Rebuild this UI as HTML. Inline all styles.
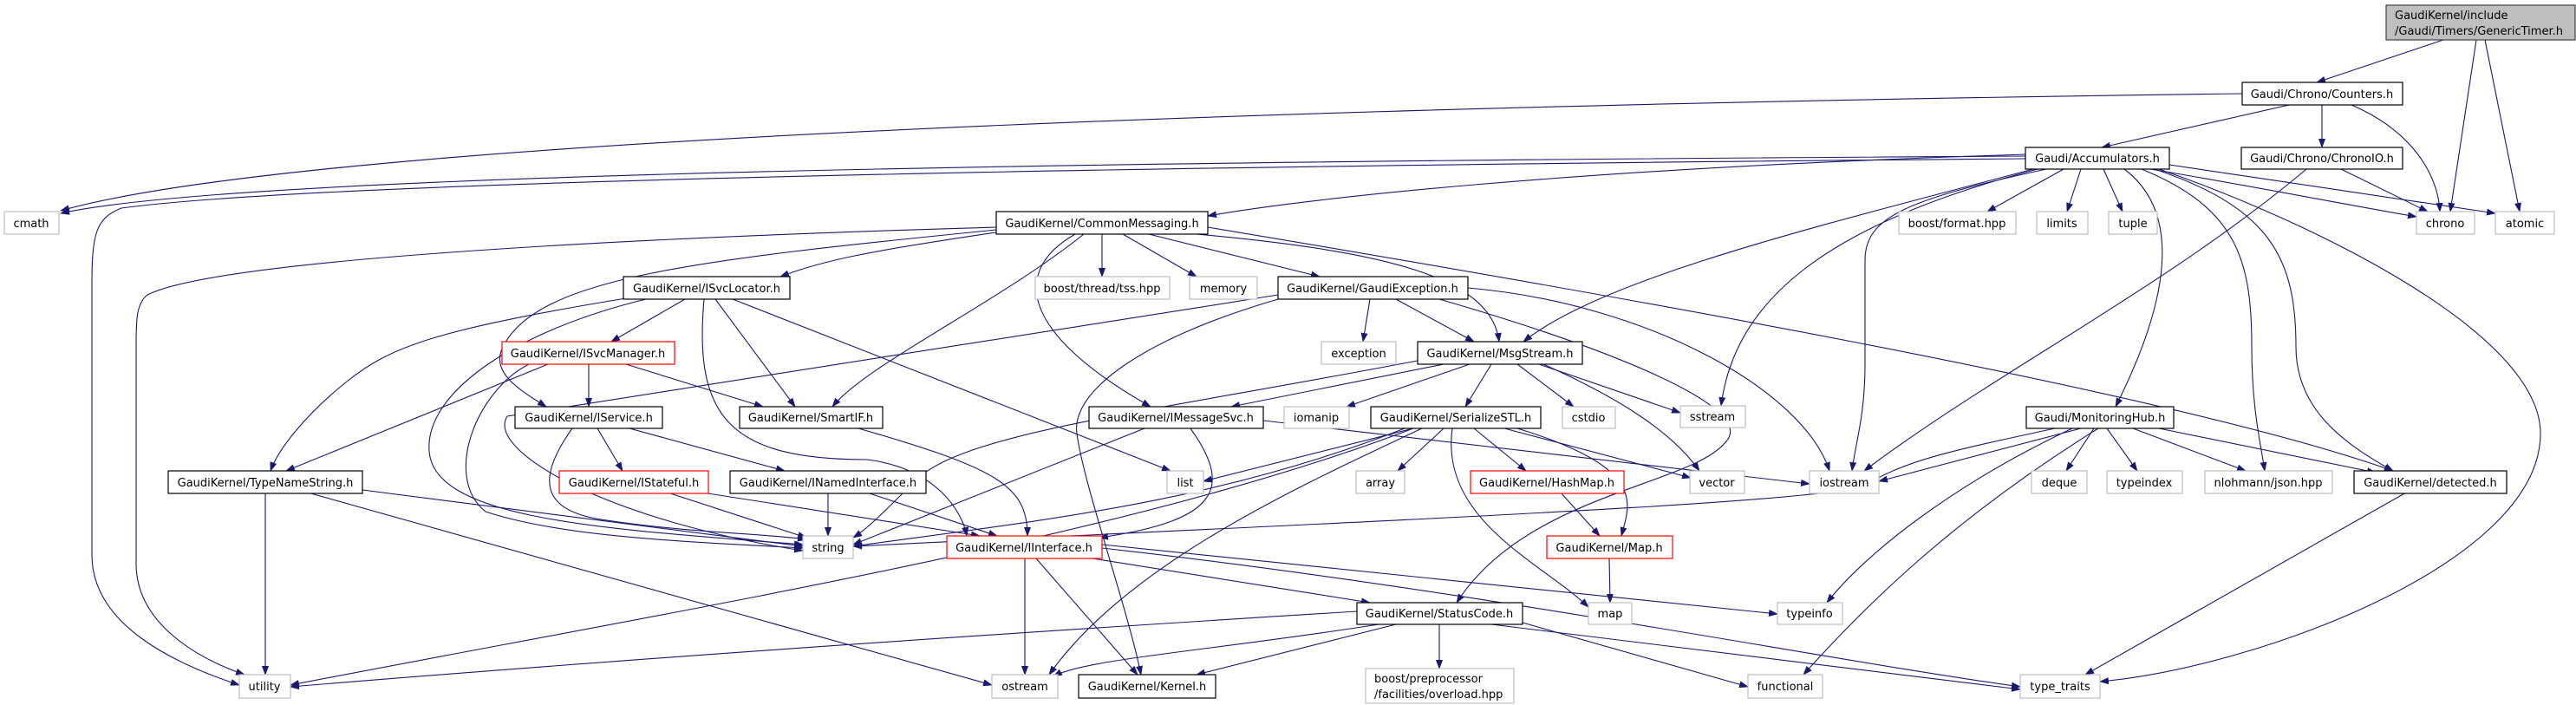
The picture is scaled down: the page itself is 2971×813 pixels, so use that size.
<!DOCTYPE html>
<html><head><meta charset="utf-8"><style>
html,body{margin:0;padding:0;background:#fff;}
svg{display:block;}
text{font-family:"DejaVu Sans","Liberation Sans",sans-serif;font-size:13px;fill:#000;}
.e{fill:none;stroke:#191970;stroke-width:1.1;}
.b{fill:#fff;stroke:#000;stroke-width:1.2;}
.g{fill:#fff;stroke:#bfbfbf;stroke-width:1.2;}
.r{fill:#fff;stroke:#ff0000;stroke-width:1.2;}
</style></head><body>
<svg width="2971" height="813" viewBox="0 0 2971 813" xmlns="http://www.w3.org/2000/svg">
<defs><marker id="a" markerWidth="11" markerHeight="8" refX="10" refY="4" orient="auto" markerUnits="userSpaceOnUse"><path d="M0,0 L11,4 L0,8 z" fill="#191970"/></marker></defs>
<g class="e" marker-end="url(#a)">
<path d="M2818,46 L2672,95"/>
<path d="M2856,46 L2826,244"/>
<path d="M2866,46 L2906,244"/>
<path d="M2640,121 L2424,170"/>
<path d="M2678,121 L2678,170"/>
<path d="M2712,121 C2780,150 2812,200 2814,244"/>
<path d="M2586,108 C1800,118 400,150 70,243"/>
<path d="M2336,180 C1500,185 300,195 70,246"/>
<path d="M2336,183 C1500,190 400,205 140,240 C110,252 106,270 106,330 L106,640 C106,720 200,765 276,790"/>
<path d="M1149,262 C700,275 250,300 170,340 C157,350 157,370 157,400 L157,650 C157,720 230,760 282,778"/>
<path d="M2336,178 C1800,195 1500,230 1393,249"/>
<path d="M2380,195 L2292,244"/>
<path d="M2400,195 L2384,244"/>
<path d="M2426,195 L2448,244"/>
<path d="M2480,195 C2600,215 2700,235 2787,250"/>
<path d="M2502,190 L2878,246"/>
<path d="M2345,195 C2100,260 1850,320 1757,394"/>
<path d="M2350,195 C2100,260 2000,350 1985,468"/>
<path d="M2360,195 C2200,230 2151,250 2151,300 L2151,420 C2151,480 2140,510 2136,543"/>
<path d="M2450,195 C2510,240 2510,330 2440,469"/>
<path d="M2470,195 C2580,240 2597,300 2597,400 C2597,470 2607,510 2612,543"/>
<path d="M2485,195 C2620,240 2648,300 2648,400 C2648,470 2700,510 2760,543"/>
<path d="M2490,195 C2650,250 2930,380 2930,500 C2930,650 2600,770 2422,786"/>
<path d="M2700,195 L2800,244"/>
<path d="M2660,195 C2500,330 2300,430 2150,543"/>
<path d="M1149,268 C1000,290 950,300 900,319"/>
<path d="M1271,270 L1271,319"/>
<path d="M1295,270 L1380,319"/>
<path d="M1325,270 L1522,319"/>
<path d="M1380,270 C1600,290 1720,320 1729,394"/>
<path d="M1240,270 C1170,310 1170,380 1327,469"/>
<path d="M1250,270 C1150,350 1000,420 960,469"/>
<path d="M1149,265 C800,300 620,320 580,400 C565,430 600,450 630,469"/>
<path d="M1393,262 C1800,330 2500,450 2760,543"/>
<path d="M790,345 L705,394"/>
<path d="M825,345 L917,469"/>
<path d="M812,345 C800,480 840,530 1000,530 C1080,540 1110,590 1115,618"/>
<path d="M845,345 L1350,543"/>
<path d="M740,341 C500,380 450,400 400,440 C350,480 320,520 312,543"/>
<path d="M745,345 C600,380 490,450 495,520 C500,600 700,610 926,628"/>
<path d="M679,420 L679,469"/>
<path d="M722,420 L880,469"/>
<path d="M632,420 L330,543"/>
<path d="M610,420 C550,450 510,550 560,590 C650,620 800,625 926,632"/>
<path d="M689,494 L718,543"/>
<path d="M726,494 L905,543"/>
<path d="M660,494 C620,550 620,590 700,600 C800,615 880,615 930,622"/>
<path d="M770,568 L930,620"/>
<path d="M810,568 L1130,618"/>
<path d="M955,568 L955,618"/>
<path d="M1000,568 L1150,618"/>
<path d="M306,568 L306,778"/>
<path d="M418,565 L926,630"/>
<path d="M355,568 L1144,790"/>
<path d="M990,494 C1150,540 1185,560 1185,618"/>
<path d="M1610,345 L1700,394"/>
<path d="M1580,345 L1572,394"/>
<path d="M1474,340 C1100,400 700,460 585,480 C560,520 700,600 926,635"/>
<path d="M1474,345 C1320,390 1235,450 1242,500 C1250,560 1300,700 1316,778"/>
<path d="M1693,332 C1900,350 2080,450 2110,543"/>
<path d="M1660,345 C1850,400 2030,470 1990,510 C1950,560 1760,570 1680,695"/>
<path d="M1665,420 L1420,469"/>
<path d="M1695,420 L1553,469"/>
<path d="M1720,420 L1690,469"/>
<path d="M1750,420 L1815,469"/>
<path d="M1775,420 L1938,476"/>
<path d="M1780,420 C1870,460 1930,500 1960,543"/>
<path d="M1640,415 C1300,480 1100,500 1050,560 C1020,590 1000,610 984,620"/>
<path d="M1373,494 C1420,560 1410,600 1268,620"/>
<path d="M1320,494 L984,628"/>
<path d="M1457,485 L2087,558"/>
<path d="M1630,494 L1388,555"/>
<path d="M1665,494 L1612,543"/>
<path d="M1700,494 L1760,543"/>
<path d="M1750,494 C1900,540 1880,580 1870,618"/>
<path d="M1735,494 L1950,551"/>
<path d="M1675,494 C1660,600 1780,650 1832,700"/>
<path d="M1640,494 C1500,560 1300,650 1210,778"/>
<path d="M1630,494 C1300,620 800,700 335,790"/>
<path d="M1620,494 C1400,580 1200,600 984,630"/>
<path d="M1800,568 L1845,618"/>
<path d="M1856,644 L1857,695"/>
<path d="M1182,644 L1182,778"/>
<path d="M1195,644 L1312,778"/>
<path d="M1260,644 L1580,695"/>
<path d="M1271,628 L2050,708"/>
<path d="M1271,632 C1700,680 2100,760 2330,792"/>
<path d="M1565,705 C1000,740 600,770 335,792"/>
<path d="M1590,720 C1400,750 1250,760 1215,780"/>
<path d="M1610,720 L1380,778"/>
<path d="M1660,720 L1660,771"/>
<path d="M1756,718 L2016,792"/>
<path d="M1720,720 L2330,795"/>
<path d="M2400,494 L2167,555"/>
<path d="M2415,494 L2383,543"/>
<path d="M2430,494 L2465,543"/>
<path d="M2460,494 L2590,543"/>
<path d="M2490,494 L2740,545"/>
<path d="M2390,494 C2250,560 2150,640 2107,695"/>
<path d="M2420,494 C2250,600 2150,700 2080,778"/>
<path d="M2370,494 C2250,520 2200,530 2150,560 C2100,580 1600,600 984,630"/>
<path d="M2775,568 L2405,778"/>
</g>
<rect x="2752" y="6" width="218" height="40" fill="#bfbfbf" stroke="#404040" stroke-width="1.2"/>
<text x="2762" y="22">GaudiKernel/include</text>
<text x="2762" y="40">/Gaudi/Timers/GenericTimer.h</text>
<g text-anchor="middle">
<rect class="b" x="2586" y="95" width="185" height="26"/><text x="2678" y="113">Gaudi/Chrono/Counters.h</text>
<rect class="b" x="2336" y="170" width="166" height="25"/><text x="2419" y="187">Gaudi/Accumulators.h</text>
<rect class="b" x="2585" y="170" width="186" height="25"/><text x="2678" y="187">Gaudi/Chrono/ChronoIO.h</text>
<rect class="g" x="5" y="244" width="63" height="26"/><text x="36" y="262">cmath</text>
<rect class="b" x="1149" y="244" width="244" height="26"/><text x="1271" y="262">GaudiKernel/CommonMessaging.h</text>
<rect class="g" x="2190" y="244" width="135" height="26"/><text x="2257" y="262">boost/format.hpp</text>
<rect class="g" x="2349" y="244" width="59" height="26"/><text x="2378" y="262">limits</text>
<rect class="g" x="2432" y="244" width="56" height="26"/><text x="2460" y="262">tuple</text>
<rect class="g" x="2787" y="244" width="67" height="26"/><text x="2820" y="262">chrono</text>
<rect class="g" x="2878" y="244" width="68" height="26"/><text x="2912" y="262">atomic</text>
<rect class="b" x="719" y="319" width="192" height="26"/><text x="815" y="337">GaudiKernel/ISvcLocator.h</text>
<rect class="g" x="1194" y="319" width="155" height="26"/><text x="1271" y="337">boost/thread/tss.hpp</text>
<rect class="g" x="1372" y="319" width="78" height="26"/><text x="1411" y="337">memory</text>
<rect class="b" x="1474" y="319" width="219" height="26"/><text x="1583" y="337">GaudiKernel/GaudiException.h</text>
<rect class="r" x="579" y="394" width="199" height="26"/><text x="678" y="412">GaudiKernel/ISvcManager.h</text>
<rect class="g" x="1524" y="394" width="86" height="26"/><text x="1567" y="412">exception</text>
<rect class="b" x="1635" y="394" width="190" height="26"/><text x="1730" y="412">GaudiKernel/MsgStream.h</text>
<rect class="b" x="594" y="469" width="170" height="25"/><text x="679" y="486">GaudiKernel/IService.h</text>
<rect class="b" x="853" y="469" width="165" height="25"/><text x="935" y="486">GaudiKernel/SmartIF.h</text>
<rect class="b" x="1256" y="469" width="201" height="25"/><text x="1356" y="486">GaudiKernel/IMessageSvc.h</text>
<rect class="g" x="1481" y="469" width="75" height="25"/><text x="1518" y="486">iomanip</text>
<rect class="b" x="1581" y="469" width="196" height="25"/><text x="1679" y="486">GaudiKernel/SerializeSTL.h</text>
<rect class="g" x="1802" y="469" width="61" height="25"/><text x="1832" y="486">cstdio</text>
<rect class="g" x="1938" y="468" width="75" height="25"/><text x="1975" y="485">sstream</text>
<rect class="b" x="2337" y="469" width="170" height="25"/><text x="2422" y="486">Gaudi/MonitoringHub.h</text>
<rect class="b" x="194" y="543" width="224" height="26"/><text x="306" y="561">GaudiKernel/TypeNameString.h</text>
<rect class="r" x="645" y="543" width="172" height="26"/><text x="731" y="561">GaudiKernel/IStateful.h</text>
<rect class="b" x="842" y="543" width="226" height="26"/><text x="955" y="561">GaudiKernel/INamedInterface.h</text>
<rect class="g" x="1346" y="543" width="42" height="26"/><text x="1367" y="561">list</text>
<rect class="g" x="1564" y="543" width="56" height="26"/><text x="1592" y="561">array</text>
<rect class="r" x="1696" y="543" width="177" height="26"/><text x="1784" y="561">GaudiKernel/HashMap.h</text>
<rect class="g" x="1949" y="543" width="63" height="26"/><text x="1980" y="561">vector</text>
<rect class="g" x="2087" y="543" width="80" height="26"/><text x="2127" y="561">iostream</text>
<rect class="g" x="2343" y="543" width="64" height="26"/><text x="2375" y="561">deque</text>
<rect class="g" x="2430" y="543" width="87" height="26"/><text x="2473" y="561">typeindex</text>
<rect class="g" x="2543" y="543" width="147" height="26"/><text x="2616" y="561">nlohmann/json.hpp</text>
<rect class="b" x="2715" y="543" width="176" height="26"/><text x="2803" y="561">GaudiKernel/detected.h</text>
<rect class="g" x="926" y="618" width="58" height="26"/><text x="955" y="636">string</text>
<rect class="r" x="1092" y="618" width="179" height="26"/><text x="1181" y="636">GaudiKernel/IInterface.h</text>
<rect class="r" x="1784" y="618" width="145" height="26"/><text x="1856" y="636">GaudiKernel/Map.h</text>
<rect class="g" x="2050" y="695" width="75" height="25"/><text x="2087" y="712">typeinfo</text>
<rect class="b" x="1565" y="695" width="191" height="25"/><text x="1660" y="712">GaudiKernel/StatusCode.h</text>
<rect class="g" x="1832" y="695" width="50" height="25"/><text x="1857" y="712">map</text>
<rect class="g" x="276" y="778" width="59" height="27"/><text x="305" y="796">utility</text>
<rect class="g" x="1144" y="778" width="76" height="27"/><text x="1182" y="796">ostream</text>
<rect class="b" x="1244" y="778" width="158" height="27"/><text x="1323" y="796">GaudiKernel/Kernel.h</text>
<rect class="g" x="2016" y="778" width="86" height="27"/><text x="2059" y="796">functional</text>
<rect class="g" x="2330" y="778" width="92" height="27"/><text x="2376" y="796">type_traits</text>
</g>
<rect class="g" x="1575" y="771" width="171" height="40"/>
<text x="1585" y="787">boost/preprocessor</text>
<text x="1585" y="805">/facilities/overload.hpp</text>
</svg>
</body></html>
